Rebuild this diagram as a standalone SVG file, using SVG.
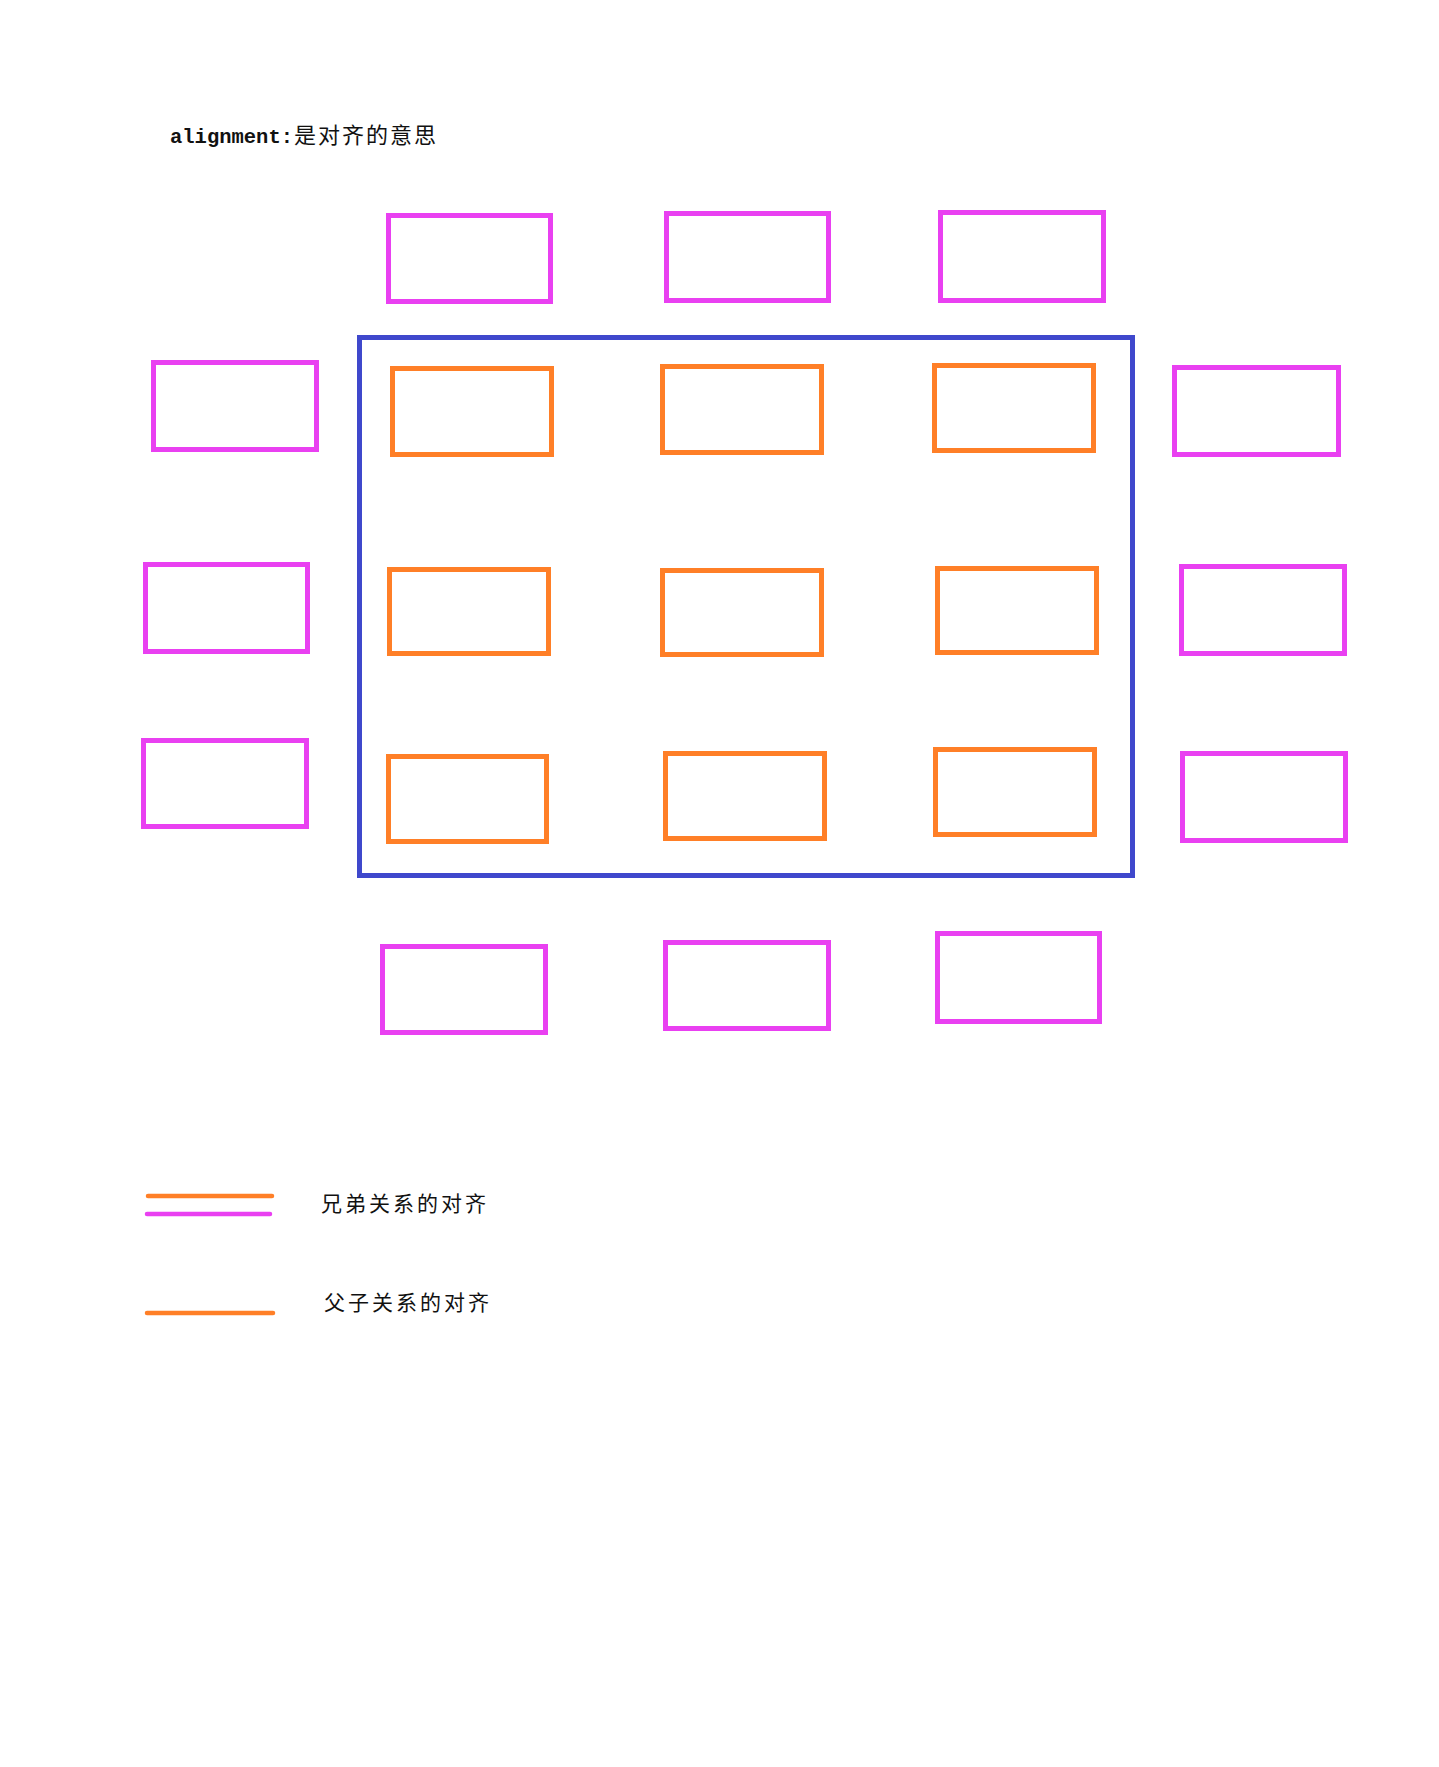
<svg xmlns="http://www.w3.org/2000/svg" width="1439" height="1767" viewBox="0 0 1439 1767">
<style>
.m{fill:none;stroke:#E940F1;stroke-width:5}
.o{fill:none;stroke:#FF7F27;stroke-width:5}
.b{fill:none;stroke:#3F48CC;stroke-width:5}
.t{fill:#111;font-family:"Noto Sans CJK SC","Liberation Sans",sans-serif;font-size:21px;letter-spacing:3px}
.lat{font-family:"Liberation Mono","Noto Sans CJK SC",monospace;font-size:20.5px;font-weight:bold;letter-spacing:0}
.lm{stroke-width:4.5;stroke-linecap:round;fill:none}
</style>
<rect width="1439" height="1767" fill="#fff"/>
<g id="title"><text class="t" x="170" y="143"><tspan class="lat">alignment:</tspan><tspan x="294" style="font-size:22px;letter-spacing:2px">是对齐的意思</tspan></text></g>
<g id="parent"><rect class="b" x="359.5" y="337.5" width="773" height="538"/></g>
<g id="top-siblings">
<g id="m1"><rect class="m" x="388.5" y="215.5" width="162" height="86"/></g>
<g id="m2"><rect class="m" x="666.5" y="213.5" width="162" height="87"/></g>
<g id="m3"><rect class="m" x="940.5" y="212.5" width="163" height="88"/></g>
</g>
<g id="left-siblings">
<g id="l1"><rect class="m" x="153.5" y="362.5" width="163" height="87"/></g>
<g id="l2"><rect class="m" x="145.5" y="564.5" width="162" height="87"/></g>
<g id="l3"><rect class="m" x="143.5" y="740.5" width="163" height="86"/></g>
</g>
<g id="right-siblings">
<g id="r1"><rect class="m" x="1174.5" y="367.5" width="164" height="87"/></g>
<g id="r2"><rect class="m" x="1181.5" y="566.5" width="163" height="87"/></g>
<g id="r3"><rect class="m" x="1182.5" y="753.5" width="163" height="87"/></g>
</g>
<g id="children">
<g id="o11"><rect class="o" x="392.5" y="368.5" width="159" height="86"/></g>
<g id="o12"><rect class="o" x="662.5" y="366.5" width="159" height="86"/></g>
<g id="o13"><rect class="o" x="934.5" y="365.5" width="159" height="85"/></g>
<g id="o21"><rect class="o" x="389.5" y="569.5" width="159" height="84"/></g>
<g id="o22"><rect class="o" x="662.5" y="570.5" width="159" height="84"/></g>
<g id="o23"><rect class="o" x="937.5" y="568.5" width="159" height="84"/></g>
<g id="o31"><rect class="o" x="388.5" y="756.5" width="158" height="85"/></g>
<g id="o32"><rect class="o" x="665.5" y="753.5" width="159" height="85"/></g>
<g id="o33"><rect class="o" x="935.5" y="749.5" width="159" height="85"/></g>
</g>
<g id="bottom-siblings">
<g id="b1"><rect class="m" x="382.5" y="946.5" width="163" height="86"/></g>
<g id="b2"><rect class="m" x="665.5" y="942.5" width="163" height="86"/></g>
<g id="b3"><rect class="m" x="937.5" y="933.5" width="162" height="88"/></g>
</g>
<g id="legend-sibling">
<line class="lm" x1="148" y1="1196" x2="272" y2="1196" stroke="#FF7F27"/>
<line class="lm" x1="147" y1="1214" x2="270" y2="1214" stroke="#E940F1"/>
<text class="t" x="321" y="1211">兄弟关系的对齐</text>
</g>
<g id="legend-parent">
<line class="lm" x1="147" y1="1313" x2="273" y2="1313" stroke="#FF7F27"/>
<text class="t" x="324" y="1310">父子关系的对齐</text>
</g>
</svg>
